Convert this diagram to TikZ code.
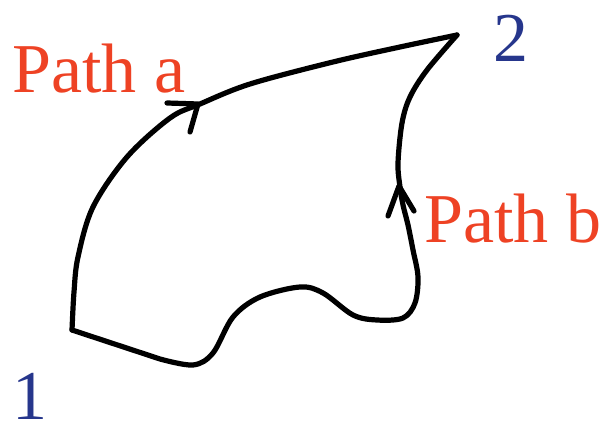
\documentclass[tikz,border=0pt]{standalone}
\usepackage{fontspec}
\setmainfont{Liberation Serif}
\definecolor{pathred}{RGB}{238,66,36}
\definecolor{ptblue}{RGB}{38,54,140}
\begin{document}
\begin{tikzpicture}[x=1pt,y=-1pt,
  curve/.style={line width=5.2pt, line cap=round, line join=round, black},
  lbl/.style={inner sep=0pt, anchor=base west, font=\fontsize{70}{84}\selectfont},
  pathlbl/.style={lbl, text=pathred},
  ptlbl/.style={lbl, text=ptblue}]
\useasboundingbox (0,0) rectangle (610,427);
\coordinate (p1) at (72,330);
\coordinate (p2) at (457,35);
% Path a
\draw[curve] plot[smooth, tension=0.55] coordinates {(72,330) (74,292) (78,257) (93,207) (127,157) (170,118) (200,104) (250,84) (333,62) (400,47) (457,35)};
% Path b
\draw[curve] (p1) -- plot[smooth, tension=0.55] coordinates {(160,359) (193,365) (213,353) (233,317) (260,297) (300,287) (323,293) (353,315) (377,320) (403,318) (415,303) (418,277) (413,250) (408,225) (403,205) (400,187) (398,163) (402,123) (410,97) (427,70) (457,35)};
% arrowheads
\draw[curve] (167,103) -- (198,104) -- (190,132);
\draw[curve] (388,216) -- (399,186) -- (414,211);
% labels
\node[pathlbl] (la) at (12,93) {Path a};
\node[pathlbl] (lb) at (424,243) {Path b};
\node[ptlbl] (n1) at (12,419) {1};
\node[ptlbl] (n2) at (493,62) {2};
\end{tikzpicture}
\end{document}
